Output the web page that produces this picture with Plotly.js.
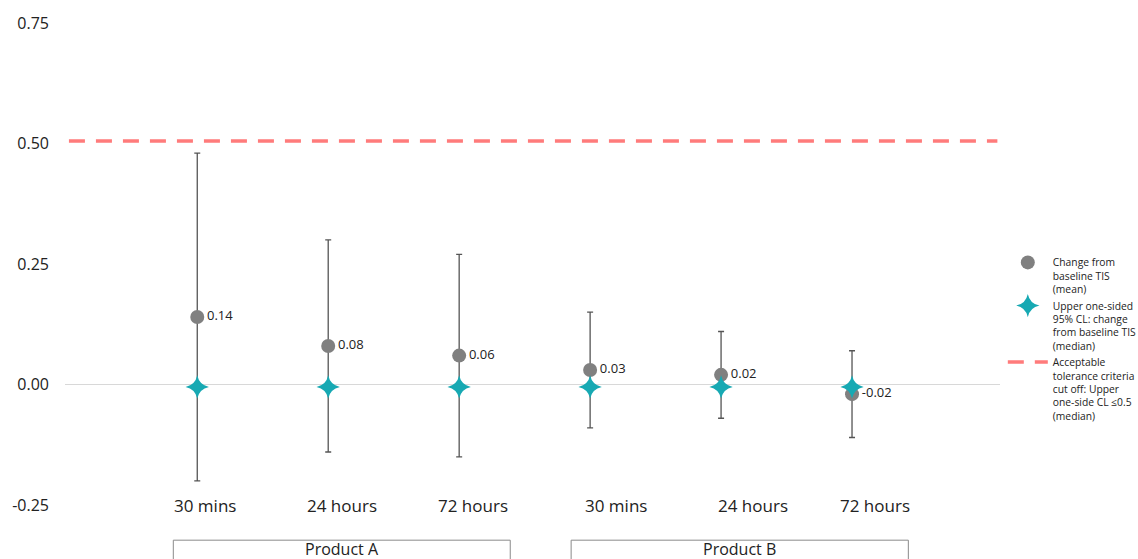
<!DOCTYPE html>
<html>
<head>
<meta charset="utf-8">
<script src="https://cdn.plot.ly/plotly-3.0.1.min.js"></script>
<style>html,body{margin:0;padding:0;background:#fff;}#chart{width:1138px;height:559px;}</style>
</head>
<body>
<div id="chart"></div>
<script>
// ---- data ----
var timepoints = ["30 mins", "24 hours", "72 hours", "30 mins", "24 hours", "72 hours"];
var products = ["Product A", "Product B"];
var meanChange = [0.14, 0.08, 0.06, 0.03, 0.02, -0.02];
var ciUpper = [0.48, 0.30, 0.27, 0.15, 0.11, 0.07];
var ciLower = [-0.20, -0.14, -0.15, -0.09, -0.07, -0.11];
var upperCLMedian = [-0.005, -0.005, -0.005, -0.005, -0.005, -0.005];
var cutoff = 0.505;
var yTicks = [-0.25, 0, 0.25, 0.5, 0.75];
var yTickText = ["-0.25", "0.00", "0.25", "0.50", "0.75"];
var legendNames = [
  "Change from<br>baseline TIS<br>(mean)",
  "Upper one-sided<br>95% CL: change<br>from baseline TIS<br>(median)",
  "Acceptable<br>tolerance criteria<br>cut off: Upper<br>one-side CL \u22640.5<br>(median)"
];

// ---- layout-only positions (pixels / axis units) ----
var labelShiftPx = [8, 14, 14, 26, 32, 23];
var xRange = [-1.01, 6.13];
var groupBox = [[-0.183, 2.39], [2.855, 5.43]];

// ---- derived ----
var xs = timepoints.map(function (_, i) { return i; });
var errPlus = ciUpper.map(function (u, i) { return u - meanChange[i]; });
var errMinus = ciLower.map(function (l, i) { return meanChange[i] - l; });
var labels = meanChange.map(function (v) { return v.toFixed(2); });
var FONT = "Open Sans, Noto Sans, sans-serif";

var traces = [
  {
    x: xs, y: meanChange, type: "scatter", mode: "markers",
    marker: { size: 1, color: "rgba(0,0,0,0)" },
    error_y: { type: "data", symmetric: false, array: errPlus, arrayminus: errMinus,
               color: "#555555", thickness: 1.3, width: 3 },
    showlegend: false, hoverinfo: "skip"
  },
  {
    x: xs, y: meanChange, type: "scatter", mode: "markers+text",
    name: legendNames[0],
    marker: { size: 14, color: "#808080", symbol: "circle" },
    text: labels, textposition: "middle right",
    textfont: { size: 13, color: "#222", family: FONT }
  },
  {
    x: xs, y: upperCLMedian, type: "scatter", mode: "markers",
    name: legendNames[1],
    marker: { size: 15, color: "#17a9b3", symbol: "star-square", angle: 45, line: { width: 0 } }
  },
  {
    x: [xRange[0] + 0.03, xRange[1] - 0.02], y: [cutoff, cutoff], type: "scatter", mode: "lines",
    name: legendNames[2],
    line: { color: "#ff7b7b", width: 3.5, dash: "16px,11px" }
  }
];

var shapes = [], annotations = [];
products.forEach(function (p, g) {
  shapes.push({ type: "rect", xref: "x", yref: "paper",
    x0: groupBox[g][0], x1: groupBox[g][1], y0: -0.2, y1: -0.073,
    line: { color: "#8a8a8a", width: 1 }, fillcolor: "rgba(0,0,0,0)" });
  annotations.push({ xref: "x", yref: "paper", x: (groupBox[g][0] + groupBox[g][1]) / 2,
    y: -0.092, text: p, showarrow: false, yanchor: "middle",
    font: { size: 16, color: "#222", family: FONT } });
});
timepoints.forEach(function (t, i) {
  annotations.push({ xref: "x", yref: "y", x: i, y: yTicks[0], text: t, showarrow: false,
    xshift: labelShiftPx[i], yanchor: "middle", font: { size: 17, color: "#222", family: FONT } });
});

var layout = {
  width: 1138, height: 559,
  margin: { l: 65, r: 138, t: 23, b: 54, autoexpand: false },
  paper_bgcolor: "#fff", plot_bgcolor: "#fff",
  font: { family: FONT, color: "#222" },
  xaxis: { range: xRange, showgrid: false, zeroline: false, showticklabels: false,
           showline: false, ticks: "" },
  yaxis: { range: [yTicks[0], yTicks[yTicks.length - 1]], tickvals: yTicks, ticktext: yTickText,
           showgrid: false, zeroline: true, zerolinecolor: "#d8d8d8", zerolinewidth: 1,
           showline: false, ticks: "", ticklabelstandoff: 15,
           tickfont: { size: 16, color: "#222", family: FONT } },
  legend: { x: 1.003, xanchor: "left", y: 0.344, yanchor: "middle", valign: "top",
            itemwidth: 40,
            font: { size: 10.3, color: "#222", family: FONT },
            bgcolor: "rgba(0,0,0,0)" },
  shapes: shapes,
  annotations: annotations,
  showlegend: true
};

Plotly.newPlot("chart", traces, layout, { displayModeBar: false, staticPlot: true });
</script>
</body>
</html>
